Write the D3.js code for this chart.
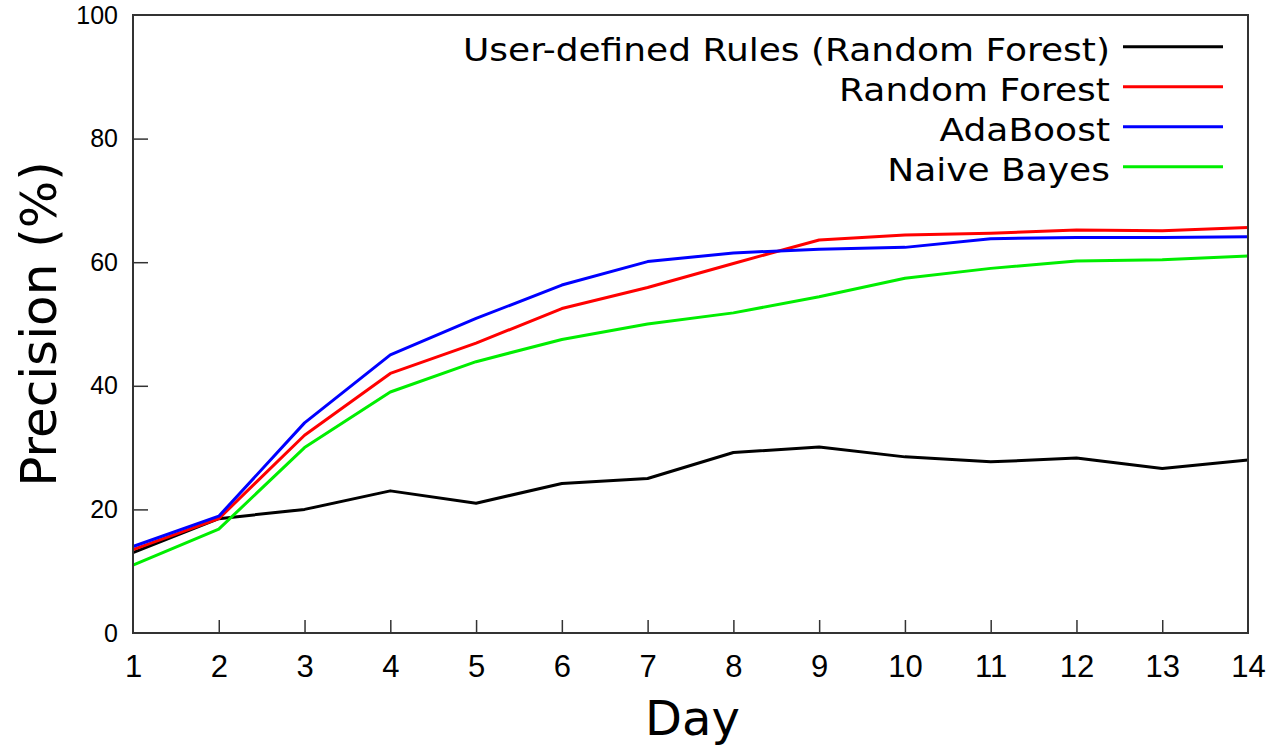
<!DOCTYPE html>
<html>
<head>
<meta charset="utf-8">
<script src="https://cdn.jsdelivr.net/npm/d3@7"></script>
<style>
  html, body { margin: 0; padding: 0; background: #fff; }
  svg { display: block; }
</style>
</head>
<body>
<svg id="chart" width="1278" height="747"></svg>
<script>
const days = [1, 2, 3, 4, 5, 6, 7, 8, 9, 10, 11, 12, 13, 14];
const userRules = [13, 18.5, 20, 23, 21, 24.2, 25, 29.2, 30.1, 28.5, 27.7, 28.3, 26.6, 28];
const randomForest = [13.5, 18.5, 32, 42, 46.9, 52.5, 55.9, 59.8, 63.6, 64.4, 64.7, 65.2, 65.1, 65.6];
const adaBoost = [14, 18.9, 34, 45, 50.9, 56.3, 60.1, 61.5, 62.1, 62.4, 63.8, 64.0, 64.0, 64.1];
const naiveBayes = [11, 16.8, 30, 39, 43.9, 47.5, 50.0, 51.8, 54.4, 57.4, 59.0, 60.2, 60.4, 61.0];
const seriesNames = ["User-defined Rules (Random Forest)", "Random Forest", "AdaBoost", "Naive Bayes"];
const seriesColors = ["#000000", "#ff0000", "#0000ff", "#00ee00"];
const yTicks = [0, 20, 40, 60, 80, 100];
const xLabel = "Day";
const yLabel = "Precision (%)";

const seriesValues = [userRules, randomForest, adaBoost, naiveBayes];

(function () {
const svg = d3.select("#chart");
const pLeft = 133, pRight = 1248, pTop = 15, pBottom = 633;

const x = d3.scaleLinear().domain([1, 14]).range([pLeft, pRight]);
const y = d3.scaleLinear().domain([0, 100]).range([pBottom, pTop]);

const frameColor = "#333";

// x axis (ticks inward)
const xAxis = d3.axisBottom(x).tickValues(days).tickFormat(d3.format("d")).tickSize(-13).tickPadding(22);
const gx = svg.append("g").attr("transform", `translate(0,${pBottom})`).call(xAxis);
gx.select(".domain").remove();
gx.selectAll(".tick line").attr("stroke", frameColor).attr("stroke-width", 1.5);
gx.selectAll(".tick text")
  .attr("font-family", "'Liberation Sans', Arial, sans-serif")
  .attr("font-size", 31).attr("fill", "#000");
gx.selectAll(".tick").filter(d => d === 1 || d === 14).select("line").remove();

// y axis
const yAxis = d3.axisLeft(y).tickValues(yTicks).tickSize(-15).tickPadding(15);
const gy = svg.append("g").attr("transform", `translate(${pLeft},0)`).call(yAxis);
gy.select(".domain").remove();
gy.selectAll(".tick line").attr("stroke", frameColor).attr("stroke-width", 1.5);
gy.selectAll(".tick text")
  .attr("font-family", "'Liberation Sans', Arial, sans-serif")
  .attr("font-size", 25).attr("fill", "#000");
gy.selectAll(".tick").filter(d => d === 0 || d === 100).select("line").remove();

// data lines
const line = d3.line().x((d, i) => x(days[i])).y(d => y(d));
seriesValues.forEach((vals, k) => {
  svg.append("path")
    .datum(vals)
    .attr("d", line)
    .attr("fill", "none")
    .attr("stroke", seriesColors[k])
    .attr("stroke-width", 3)
    .attr("stroke-linejoin", "round");
});

// frame
svg.append("rect")
  .attr("x", pLeft).attr("y", pTop)
  .attr("width", pRight - pLeft).attr("height", pBottom - pTop)
  .attr("fill", "none").attr("stroke", frameColor).attr("stroke-width", 2);

// legend
const legY = d3.scaleLinear().domain([0, 1]).range([46.7, 86.7]);
seriesNames.forEach((name, k) => {
  const ly = legY(k);
  svg.append("text")
    .attr("transform", `translate(1110,${ly + 14.5}) scale(1.125,1)`)
    .attr("text-anchor", "end")
    .attr("font-family", "'DejaVu Sans', Verdana, sans-serif")
    .attr("font-size", 32)
    .attr("fill", "#000")
    .text(name);
  svg.append("line")
    .attr("x1", 1123).attr("x2", 1223)
    .attr("y1", ly).attr("y2", ly)
    .attr("stroke", seriesColors[k]).attr("stroke-width", 3);
});

// axis titles
svg.append("text")
  .attr("x", (pLeft + pRight) / 2 + 2).attr("y", 735)
  .attr("text-anchor", "middle")
  .attr("font-family", "'DejaVu Sans', Verdana, sans-serif")
  .attr("font-size", 48)
  .attr("fill", "#000")
  .text(xLabel);

svg.append("text")
  .attr("transform", `translate(56,${(pTop + pBottom) / 2}) rotate(-90)`)
  .attr("text-anchor", "middle")
  .attr("font-family", "'DejaVu Sans', Verdana, sans-serif")
  .attr("font-size", 50)
  .attr("fill", "#000")
  .text(yLabel);
})();
</script>
</body>
</html>
